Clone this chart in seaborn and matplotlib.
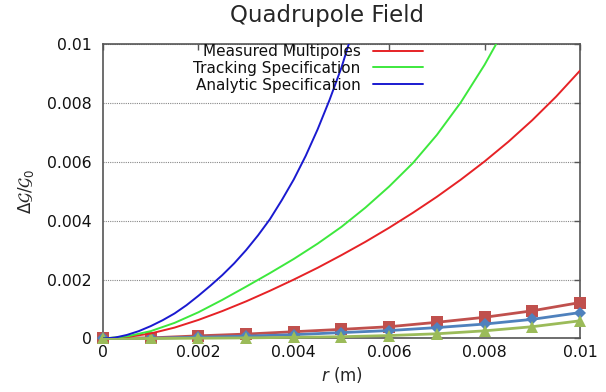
import numpy as np
import pandas as pd
import matplotlib
matplotlib.use("Agg")
import matplotlib.pyplot as plt
import seaborn as sns
from matplotlib.ticker import FuncFormatter

sns.set_style("white")
plt.rcParams['font.family'] = ['DejaVu Sans']
plt.rcParams['mathtext.fontset'] = 'dejavusans'

# ---- data (values in units of 1e-3) ----
r_half = [i * 0.5 for i in range(21)]            # r in mm
r_quarter = [i * 0.25 for i in range(22)]
r_points = [float(i) for i in range(11)]

measured_curve = [0, 0.05, 0.17, 0.37, 0.63, 0.93, 1.26, 1.62, 2.00, 2.40, 2.83,
                  3.28, 3.76, 4.27, 4.81, 5.39, 6.01, 6.68, 7.41, 8.21, 9.09]
tracking_curve = [0, 0.07, 0.25, 0.53, 0.89, 1.31, 1.76, 2.22, 2.70, 3.22, 3.79,
                  4.44, 5.16, 5.96, 6.91, 8.01, 9.29, 10.74]
analytic_curve = [0, 0.03, 0.12, 0.25, 0.42, 0.62, 0.85, 1.13, 1.45, 1.79, 2.15,
                  2.55, 3.00, 3.50, 4.05, 4.70, 5.40, 6.20, 7.10, 8.10, 9.20, 10.5]

squares = [0, 0.02, 0.09, 0.15, 0.23, 0.31, 0.40, 0.55, 0.72, 0.94, 1.22]
diamonds = [0, 0.01, 0.04, 0.08, 0.13, 0.20, 0.27, 0.37, 0.49, 0.65, 0.88]
triangles = [0, 0.0, 0.01, 0.02, 0.04, 0.06, 0.10, 0.16, 0.26, 0.40, 0.60]

curve_labels = ["Measured Multipoles", "Tracking Specification", "Analytic Specification"]
curve_colors = ["#e62226", "#3de83d", "#1a1ad0"]
point_colors = ["#c0504d", "#4f81bd", "#9bbb59"]

x_ticks = [0, 0.002, 0.004, 0.006, 0.008, 0.01]
y_ticks = [0, 0.002, 0.004, 0.006, 0.008, 0.01]

def df(rs, vals):
    return pd.DataFrame({"r": np.array(rs[:len(vals)]) * 1e-3,
                         "v": np.array(vals) * 1e-3})

fig = plt.figure(figsize=(6.06, 3.92), dpi=100)
ax = fig.add_axes([0.170, 0.1365, 0.787, 0.7515])

# marker series
for vals, col, mk, ms in zip([squares, diamonds, triangles], point_colors,
                             ["s", "D", "^"], [9, 6, 8]):
    sns.lineplot(data=df(r_points, vals), x="r", y="v", ax=ax, color=col,
                 linewidth=2, marker=mk, markersize=ms, markeredgewidth=0,
                 clip_on=False, zorder=3, legend=False)

# smooth curves
for rs, vals, col, lab in zip([r_half, r_half, r_quarter],
                              [measured_curve, tracking_curve, analytic_curve],
                              curve_colors, curve_labels):
    sns.lineplot(data=df(rs, vals), x="r", y="v", ax=ax, color=col,
                 linewidth=1.4, label=lab, zorder=4)

ax.set_xlim(0, 0.01)
ax.set_ylim(0, 0.01)
ax.set_xticks(x_ticks)
ax.set_yticks(y_ticks)
fmt = FuncFormatter(lambda v, p: "%g" % round(v, 6))
ax.xaxis.set_major_formatter(fmt)
ax.yaxis.set_major_formatter(fmt)
ax.tick_params(direction="in", length=4, width=1, color="#555555",
               top=True, right=True, labelsize=11.3, pad=8, labelcolor="#111111")
ax.tick_params(axis="x", pad=5)
ax.yaxis.grid(True, linestyle=(0, (1, 1)), color="#888888", linewidth=0.8)
ax.xaxis.grid(False)
for s in ax.spines.values():
    s.set_color("#555555")
    s.set_linewidth(1.2)

ax.set_xlabel("$r$ (m)", fontsize=12, labelpad=3)
ax.set_ylabel(r"$\Delta\mathcal{G}/\mathcal{G}_0$", fontsize=12, labelpad=8)
ax.set_title("Quadrupole Field", fontsize=16.5, pad=16, x=0.47)

leg = ax.legend(loc="upper right", bbox_to_anchor=(0.671, 1.0), frameon=False,
                markerfirst=False, fontsize=11, handlelength=3.3,
                labelspacing=0.12, handletextpad=0.8, borderpad=0,
                borderaxespad=0)
for t in leg.get_texts():
    t.set_color("#111111")

fig.savefig("out.png", dpi=100)
